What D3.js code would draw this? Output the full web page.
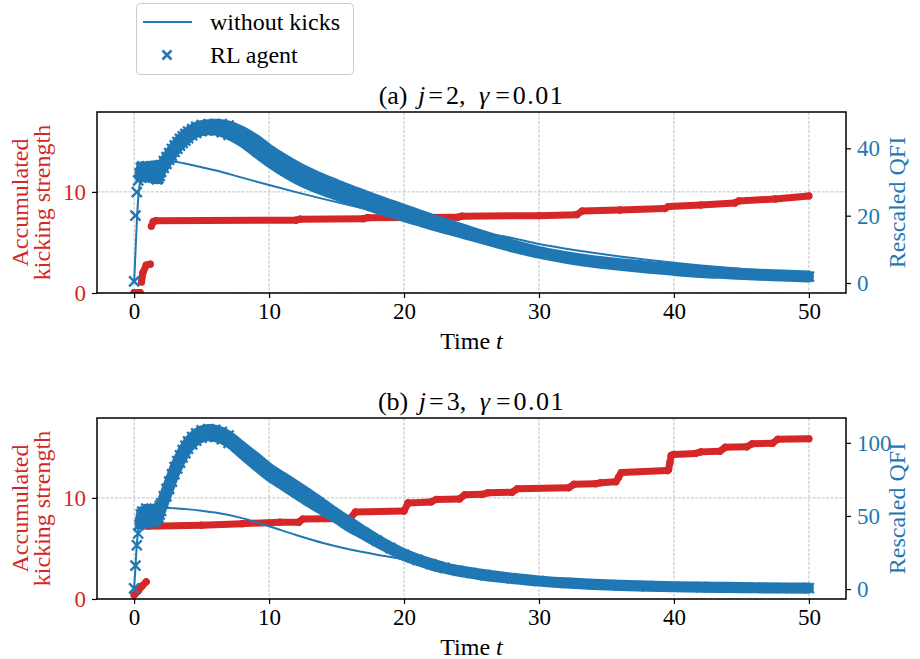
<!DOCTYPE html>
<html><head><meta charset="utf-8">
<script src="https://cdn.jsdelivr.net/npm/d3@7"></script>
<style>
body{margin:0;background:#fff}
text{font-family:"Liberation Serif","Times New Roman",serif}
</style>
</head><body>
<svg id="c" width="920" height="659"></svg>
<script>
// ---------- data ----------
const xTicks = [0, 10, 20, 30, 40, 50];
const leftTicks = [0, 10];
const rightTicksA = [0, 20, 40];
const rightTicksB = [0, 50, 100];
const titlesLetter = ["a", "b"];
const titlesJ = ["2", "3"];

// RL agent (rescaled QFI), sample times
const rlT = [0,0.1,0.2,0.3,0.4,0.5,0.6,0.7,0.8,0.9,1.0,1.1,1.2,1.3,1.4,1.5,1.6,1.7,1.8,1.9,2.0,
  2.2,2.4,2.6,2.8,3.0,3.2,3.4,3.6,3.8,4.0,
  4.3,4.6,5.0,5.5,6,6.5,7,
  8,9,10,11,12,13,14,15,16,17,18,19,20,21,22,23,24,25,26,
  28,30,32,34,36,38,40,42,44,46,48,50];
// panel (a): centre value and half-spread of the RL QFI
const rlA = [0.5,20,27,30.5,32.5,33,33.5,33,32.5,33,33.5,33,32.5,33,33.5,33,32.3,32,32.3,33,34,
  35.2,36.4,37.6,38.8,39.9,40.9,41.8,42.6,43.3,44.0,
  44.8,45.5,46.0,46.3,46.3,46.0,45.4,
  43.5,40.8,37.8,35.2,32.9,30.9,29.2,27.7,26.2,24.8,23.4,22.1,20.8,19.5,18.2,17.0,15.8,14.6,13.4,
  11.1,9.1,7.6,6.4,5.5,4.7,4.0,3.4,2.9,2.5,2.2,1.9];
const rlAspread = [0,0,0,0,0, 1.2,1.2,1.2,1.2,1.2,1.2,1.2,1.2,1.2,1.2,1.2,1.2,1.2,1.2,1.2, 1.0,
  1.0,1.0,1.0,1.0,1.0,1.0,1.0,1.0,1.0,1.0,
  0.9,0.9,0.9,0.9,1.0,1.2,1.4,
  1.7,2.0,2.0,2.0,2.0,1.9,1.8,1.7,1.6,1.5,1.4,1.3,1.2,1.1,1.0,0.9,0.8,0.7,0.6,
  0.5,0.4,0.4,0.4,0.4,0.4,0.4,0.4,0.3,0.3,0.3,0.3];
// panel (b)
const rlB = [0.5,16,30,38,44,48,50,48,50,52,50,48,50,52,50,49,50,51,52,54,56,
  61,66,71,76,81,85,89,92.5,95.5,98.5,
  101.5,104,106,107,106.5,105,102.5,
  95,87.5,80,74,68,62,56,50,44,38.5,33,28,23.5,20,17,14.5,12.5,11,9.5,
  7.3,5.5,4.2,3.2,2.5,2.0,1.6,1.3,1.1,0.9,0.7,0.6];
const rlBspread = [0,0,0,0,0, 3,3,3,3,3,3,3,3,3,3,3,3,3,3,3, 2.5,
  2.5,2.5,2.5,2.5,2.5,2.5,2.5,2.5,2.5,2.5,
  2.5,2.5,2.5,2.5,2.5,2.5,2.5,
  2.8,3,3,3,3,3,2.5,2,2,1.5,1.2,1,1,0.8,0.8,0.6,0.6,0.6,0.6,
  0.4,0.4,0.4,0.4,0.4,0.4,0.4,0.4,0.4,0.4,0.4,0.4];

// without kicks
const nkT = [0,0.1,0.2,0.3,0.4,0.6,0.8,1,1.5,2,2.5,3,4,5,6,8,10,12,14,16,18,20,22,24,26,28,30,32,34,36,38,40,42,44,46,48,50];
const nkA = [0,9,18,25,29,33,35,35.8,36.2,36.3,36.2,36,35.3,34.4,33.5,31.3,29.1,27,25,23.1,21.3,19.6,17.9,16.3,14.8,13.4,11.6,10.2,9.0,7.9,6.9,6.0,5.2,4.5,3.9,3.4,2.9];
const nkB = [0,15,30,40,46,51,53.5,54.5,55.5,55.8,55.6,55.2,54.5,53.5,52.3,48.5,43,37,31.5,27,23.5,20.5,17,13.5,10.5,8,6,4.6,3.6,2.9,2.4,2.0,1.7,1.5,1.3,1.2,1.1];

// accumulated kicking strength
const kickTA = [0,0.45,0.55,0.65,0.9,1.2,1.28,1.42,1.6,12,12.3,17,17.3,24,24.3,30,32.8,33.2,36,39.3,39.6,42,44.5,44.8,47.5,50];
const kickVA = [0.05,0.05,1.1,2.0,2.75,2.85,6.6,7.05,7.15,7.2,7.3,7.35,7.45,7.5,7.6,7.65,7.75,8.1,8.2,8.35,8.55,8.7,8.9,9.1,9.3,9.6];
const kickTB = [0,0.3,0.6,0.9,1.0,5,8,10.8,12.2,12.5,16,16.4,20,20.3,22,22.4,24.1,24.5,25.8,26.2,28,28.4,32.2,32.6,34.2,34.6,35.7,35.9,36.1,39.5,39.6,39.7,39.8,40,41.6,42,43.4,43.8,45.4,45.8,47.3,47.7,50];
const kickVB = [0.4,0.8,1.3,1.7,7.2,7.3,7.45,7.6,7.6,7.9,7.95,8.6,8.7,9.5,9.6,9.85,9.9,10.3,10.35,10.5,10.55,10.9,11.0,11.35,11.4,11.5,11.6,12.05,12.5,12.7,12.8,13.5,14.2,14.3,14.4,14.55,14.6,15.0,15.05,15.35,15.4,15.8,15.85];

// ---------- drawing ----------
const BLUE = "#1f77b4", RED = "#d62728";
const svg = d3.select("#c");
const L = 97, R = 846;
const x = d3.scaleLinear().domain([-2.75, 52.75]).range([L, R]);

const panels = [
  {top:112, bottom:293, rDom:[-2.97,50.8], rTicks:rightTicksA, rl:rlA, sp:rlAspread, nk:nkA, kT:kickTA, kV:kickVA},
  {top:418, bottom:599, rDom:[-6.8,117], rTicks:rightTicksB, rl:rlB, sp:rlBspread, nk:nkB, kT:kickTB, kV:kickVB}
];

function xMark(cx, cy, s){ return `M${cx-s},${cy-s}L${cx+s},${cy+s}M${cx-s},${cy+s}L${cx+s},${cy-s}`; }

panels.forEach((p, pi) => {
  const yL = d3.scaleLinear().domain([0, 17.9]).range([p.bottom, p.top]);
  const yR = d3.scaleLinear().domain(p.rDom).range([p.bottom, p.top]);
  const g = svg.append("g");
  const cid = "clip" + pi;
  svg.append("clipPath").attr("id", cid).append("rect")
    .attr("x", L).attr("y", p.top).attr("width", R - L).attr("height", p.bottom - p.top);

  // grid
  const grid = g.append("g").attr("stroke", "#b0b0b0").attr("stroke-width", 0.8).attr("stroke-dasharray", "3,1.5");
  grid.selectAll("line.v").data(xTicks).join("line")
    .attr("x1", d => x(d)).attr("x2", d => x(d)).attr("y1", p.top).attr("y2", p.bottom);
  grid.selectAll("line.h").data(leftTicks).join("line")
    .attr("x1", L).attr("x2", R).attr("y1", d => yL(d)).attr("y2", d => yL(d));

  const plot = g.append("g").attr("clip-path", `url(#${cid})`);

  // red: accumulated kicking strength
  const kp = p.kT.map((t, i) => ({t, v: p.kV[i]}));
  const segs = [];
  for (let i = 1; i < kp.length; i++) if (Math.abs(kp[i].v - kp[i-1].v) < 1.0) segs.push([kp[i-1], kp[i]]);
  plot.selectAll("line.k").data(segs).join("line")
    .attr("x1", d => x(d[0].t)).attr("y1", d => yL(d[0].v))
    .attr("x2", d => x(d[1].t)).attr("y2", d => yL(d[1].v))
    .attr("stroke", RED).attr("stroke-width", 7).attr("stroke-linecap", "round");
  plot.selectAll("circle.k").data(kp).join("circle")
    .attr("cx", d => x(d.t)).attr("cy", d => yL(d.v)).attr("r", 3.6).attr("fill", RED);

  // blue: without kicks
  const nkPts = nkT.map((t, i) => [t, p.nk[i]]);
  plot.append("path").datum(nkPts)
    .attr("d", d3.line().x(d => x(d[0])).y(d => yR(d[1])).curve(d3.curveMonotoneX))
    .attr("fill", "none").attr("stroke", BLUE).attr("stroke-width", 2);

  // blue: RL agent band + markers
  const rlPts = rlT.map((t, i) => ({t, c: p.rl[i], hi: p.rl[i] + p.sp[i], lo: p.rl[i] - p.sp[i]}));
  plot.append("path").datum(rlPts.filter(d => d.t >= 0.4))
    .attr("d", d3.area().x(d => x(d.t)).y0(d => yR(d.lo)).y1(d => yR(d.hi)).curve(d3.curveMonotoneX))
    .attr("fill", BLUE).attr("stroke", BLUE).attr("stroke-width", 10).attr("stroke-linejoin", "round");
  const marks = [];
  rlPts.forEach(d => {
    if (d.t <= 7 && d.hi !== d.lo) { marks.push({t: d.t, v: d.hi}); marks.push({t: d.t, v: d.lo}); }
    else marks.push({t: d.t, v: d.c});
  });
  plot.selectAll("path.m").data(marks).join("path")
    .attr("d", d => xMark(x(d.t), yR(d.v), 5))
    .attr("stroke", BLUE).attr("stroke-width", 2.3).attr("fill", "none");

  // frame
  g.append("rect").attr("x", L).attr("y", p.top).attr("width", R - L).attr("height", p.bottom - p.top)
    .attr("fill", "none").attr("stroke", "#000").attr("stroke-width", 1.5);

  // bottom axis
  const xa = g.append("g").attr("transform", `translate(0,${p.bottom})`)
    .call(d3.axisBottom(x).tickValues(xTicks).tickSize(5).tickPadding(5).tickFormat(d3.format("d")));
  xa.select(".domain").remove();
  xa.selectAll("line").attr("stroke", "#000").attr("stroke-width", 1.2);
  xa.selectAll("text").attr("font-size", 23).attr("fill", "#000").attr("font-family", "Liberation Serif");

  // left axis
  const la = g.append("g").attr("transform", `translate(${L},0)`)
    .call(d3.axisLeft(yL).tickValues(leftTicks).tickSize(5).tickPadding(6).tickFormat(d3.format("d")));
  la.select(".domain").remove();
  la.selectAll("line").attr("stroke", "#000").attr("stroke-width", 1.2);
  la.selectAll("text").attr("font-size", 23).attr("fill", RED).attr("font-family", "Liberation Serif");

  // right axis
  const ra = g.append("g").attr("transform", `translate(${R},0)`)
    .call(d3.axisRight(yR).tickValues(p.rTicks).tickSize(5).tickPadding(6).tickFormat(d3.format("d")));
  ra.select(".domain").remove();
  ra.selectAll("line").attr("stroke", "#000").attr("stroke-width", 1.2);
  ra.selectAll("text").attr("font-size", 23).attr("fill", BLUE).attr("font-family", "Liberation Serif");

  const cy = (p.top + p.bottom) / 2;
  // left label (two lines)
  g.append("text").attr("transform", `translate(27.5,${cy}) rotate(-90)`).attr("text-anchor", "middle")
    .attr("font-size", 24).attr("fill", RED).text("Accumulated");
  g.append("text").attr("transform", `translate(50,${cy}) rotate(-90)`).attr("text-anchor", "middle")
    .attr("font-size", 24).attr("fill", RED).text("kicking strength");
  // right label
  g.append("text").attr("transform", `translate(905,${cy}) rotate(-90)`).attr("text-anchor", "middle")
    .attr("font-size", 24).attr("fill", BLUE).text("Rescaled QFI");

  // x label
  const xl = g.append("text").attr("x", (L + R) / 2).attr("y", p.bottom + 56).attr("text-anchor", "middle").attr("font-size", 24);
  xl.append("tspan").text("Time ");
  xl.append("tspan").attr("font-style", "italic").text("t");

  // title
  const tt = g.append("text").attr("x", (L + R) / 2).attr("y", p.top - 8).attr("text-anchor", "middle")
    .attr("font-size", 26);
  tt.append("tspan").text(`(${titlesLetter[pi]}) `);
  tt.append("tspan").attr("font-style", "italic").attr("dx", 4).text("j");
  tt.append("tspan").attr("dx", 3).text("=");
  tt.append("tspan").attr("dx", 3).text(`${titlesJ[pi]}, `);
  tt.append("tspan").attr("font-style", "italic").attr("dx", 7).text("γ");
  tt.append("tspan").attr("dx", 6).text("=");
  tt.append("tspan").attr("dx", 3).attr("letter-spacing", 1.5).text("0.01");
});

// legend
const lg = svg.append("g");
lg.append("rect").attr("x", 136.5).attr("y", 3.5).attr("width", 217).attr("height", 71).attr("rx", 4)
  .attr("fill", "#fff").attr("fill-opacity", 0.8).attr("stroke", "#cccccc").attr("stroke-width", 1);
lg.append("line").attr("x1", 143).attr("x2", 192).attr("y1", 22).attr("y2", 22).attr("stroke", BLUE).attr("stroke-width", 2);
lg.append("text").attr("x", 210).attr("y", 30).attr("font-size", 24).text("without kicks");
lg.append("path").attr("d", xMark(167, 55, 4.5)).attr("stroke", BLUE).attr("stroke-width", 2.5).attr("fill", "none");
lg.append("text").attr("x", 210).attr("y", 63).attr("font-size", 24).text("RL agent");
</script>
</body></html>
